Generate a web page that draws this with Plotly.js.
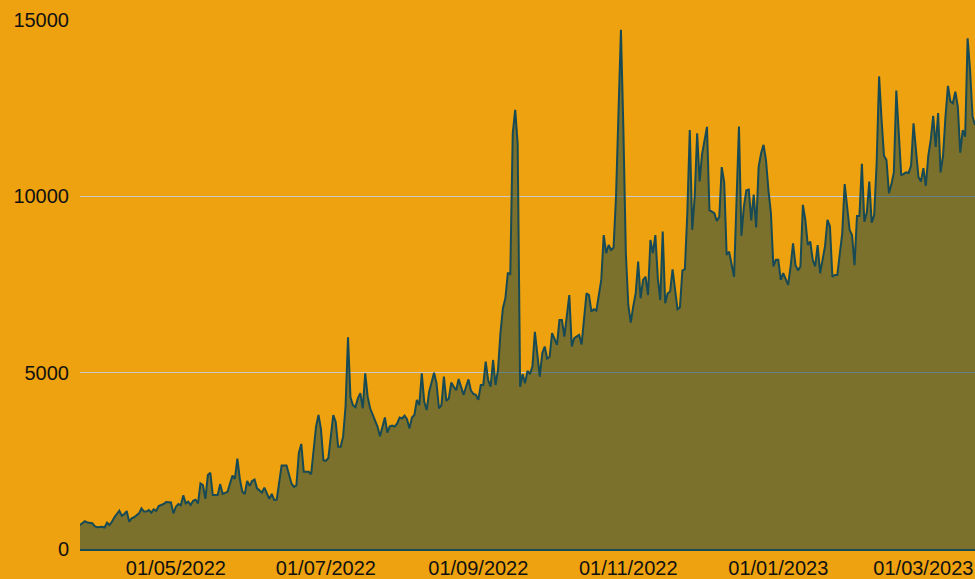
<!DOCTYPE html>
<html>
<head>
<meta charset="utf-8">
<script src="https://cdn.plot.ly/plotly-3.0.1.min.js"></script>
<style>
  html, body { margin: 0; padding: 0; background: #EEA20F; }
  #chart { width: 975px; height: 579px; }
</style>
</head>
<body>
<div id="chart"></div>
<script>
// Daily series, first day of the window
const startDate = '2022-03-23';
// Day offsets from startDate
const dayOffsets = [
  0,2,3,5,6,7,9,10,11,12,13,14,16,17,18,19,20,21,22,24,25,26,27,28,29,30,31,32,34,35,37,38,39,40,41,42,43,44,45,46,47,48,49,50,
  51,52,53,54,56,57,58,60,62,63,64,65,66,67,68,69,70,71,72,73,74,75,76,77,78,79,80,81,82,84,86,87,88,89,90,91,92,93,94,95,96,97,98,99,100,
  101,102,103,104,105,106,107,108,109,110,111,112,113,114,115,116,117,118,119,120,121,122,123,124,125,126,127,128,129,130,
  131,132,133,134,135,136,137,138,139,140,141,142,144,145,146,147,148,149,150,151,152,153,154,155,156,157,158,159,160,
  161,162,163,164,165,166,167,168,169,170,171,172,173,174,175,176,177,178,179,180,181,182,183,184,185,186,187,188,189,190,
  191,192,193,194,195,196,197,199,200,201,203,204,206,207,208,209,210,212,213,214,215,216,217,218,219,220,
  221,222,223,224,225,226,227,228,229,230,231,232,233,234,235,236,237,238,239,240,241,242,243,244,245,246,247,248,249,250,
  251,252,253,255,256,258,259,260,261,262,263,264,266,268,269,270,271,272,273,274,275,276,277,278,279,280,
  281,282,283,284,285,286,287,288,289,290,291,292,293,294,295,296,297,298,299,300,301,302,303,304,305,306,307,308,310,
  311,313,314,315,316,317,318,319,320,321,322,323,324,325,326,327,328,329,330,331,332,333,334,335,336,337,338,339,340,
  341,342,343,344,345,346,347,348,349,350,351,352,353,354,355,356,357,358,359,360,361,362,363,364
];
// Daily values
const dailyValues = [
  680,790,750,730,650,615,630,610,745,680,775,900,1085,940,990,1075,775,870,900,1010,1150,1060,1060,1105,1030,1125,1080,1220,1275,1335,1320,1010,1200,1275,1240,1520,1295,1345,1250,1370,1400,1295,1860,1815,
  1420,2100,2160,1530,1530,1840,1560,1620,2080,1990,2560,1990,1630,1560,1930,1790,1930,1970,1720,1650,1600,1740,1580,1420,1560,1390,1400,1870,2370,2370,1860,1760,1800,2720,2980,2190,2190,2190,2120,2810,3470,3800,3400,2520,2500,
  2580,3200,3800,3600,2900,2900,3185,4040,6000,4300,4080,4020,4270,4420,3990,4980,4320,3990,3800,3610,3470,3200,3470,3730,3300,3480,3500,3470,3560,3730,
  3700,3780,3680,3420,3730,3800,4230,4080,4980,4180,3940,4460,5000,4700,3990,4080,4890,4200,4270,4720,4600,4500,4820,4560,4370,4600,4810,4490,4400,
  4370,4230,4650,4650,5310,4790,4600,5360,4650,5080,6120,6830,7110,7820,7800,11790,12450,11500,4600,4960,4700,5050,4960,5170,6160,5450,4890,5550,5740,5400,
  5450,6120,5930,5790,6490,6490,6020,7200,5740,5980,6070,5800,7250,7200,6730,6800,6760,7630,8900,8390,8620,8480,8550,9990,12360,14720,
  11880,8390,6920,6420,6880,7250,8150,7110,7630,7720,7200,8760,8390,8900,7680,7060,9000,6970,7250,7300,7930,7440,6800,6850,7900,7930,9520,11880,9050,9990,
  11790,10420,11200,11970,9610,9520,9300,9420,10830,10400,8340,8430,7720,11980,8880,9700,10170,10190,9320,10050,9120,10830,11220,11460,11030,10170,
  9520,8010,8200,8200,7630,7820,7630,7490,8010,8670,8050,7900,8010,9760,9330,8620,8720,8200,8010,8620,7820,8150,8580,9330,9150,7720,7770,7770,8950,
  10350,9050,8900,8050,9440,9440,10920,9280,9540,10420,9250,9470,10940,13400,12170,11150,11030,10090,10340,10680,13000,11880,10590,10640,10680,10660,10870,12070,11410,
  10550,10420,10800,10300,11150,11600,12280,11400,12360,10680,11150,12260,13130,12690,12640,12970,12550,11240,11880,11690,14480,13580,12260,12020
];
const yTickValues = [0, 5000, 10000, 15000];
const xRange = ['2022-03-23', '2023-03-22'];

function addDays(iso, n) {
  const d = new Date(iso + 'T00:00:00Z');
  d.setUTCDate(d.getUTCDate() + n);
  return d.toISOString().slice(0, 10);
}
const dates = dayOffsets.map(o => addDays(startDate, o));

const trace = {
  x: dates,
  y: dailyValues,
  type: 'scatter',
  mode: 'lines',
  fill: 'tozeroy',
  fillcolor: 'rgba(8,62,74,0.5)',
  line: { color: '#174A55', width: 2 },
  hoverinfo: 'x+y'
};

const layout = {
  width: 975,
  height: 579,
  margin: { l: 80, r: 0, t: 20, b: 30 },
  paper_bgcolor: '#EEA20F',
  plot_bgcolor: '#EEA20F',
  showlegend: false,
  font: { family: 'Liberation Sans, Arial, sans-serif', size: 20, color: '#111111' },
  xaxis: {
    type: 'date',
    range: xRange,
    showgrid: false,
    zeroline: false,
    showline: true,
    linecolor: '#174A55',
    linewidth: 2,
    ticks: '',
    dtick: 'M2',
    tick0: '2022-01-01',
    tickformat: '%d/%m/%Y',
    tickfont: { size: 20, color: '#111111' }
  },
  yaxis: {
    range: [0, 15000],
    tickvals: yTickValues,
    ticktext: yTickValues.map(String),
    showgrid: true,
    gridcolor: '#C9C9C9',
    gridwidth: 1,
    zeroline: false,
    showline: false,
    ticks: '',
    ticklabelstandoff: 10,
    tickfont: { size: 20, color: '#111111' }
  }
};

Plotly.newPlot('chart', [trace], layout, { displayModeBar: false, staticPlot: true });
</script>
</body>
</html>
